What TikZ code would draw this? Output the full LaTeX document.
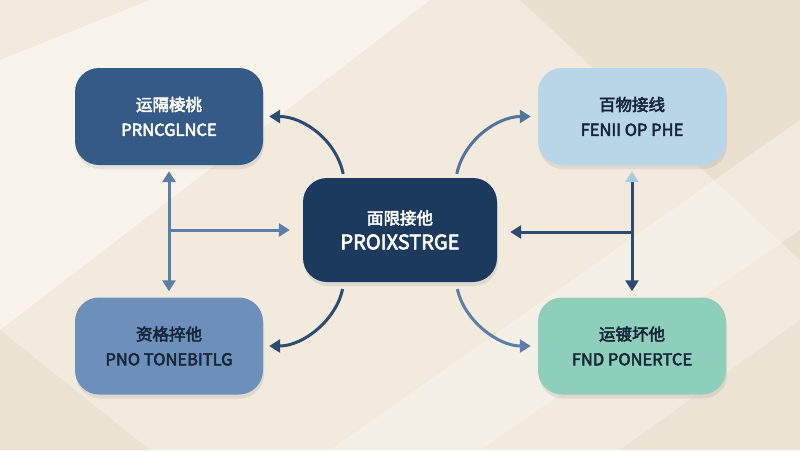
\documentclass[tikz,border=0pt]{standalone}
\usepackage{fontspec}
\newfontfamily\lblfont{Noto Sans CJK SC}[FakeBold=3]
\usetikzlibrary{arrows.meta,shadows,calc}
\definecolor{bgbase}{HTML}{F1EADD}
\definecolor{bglight}{HTML}{FBF8F0}
\definecolor{bgdark}{HTML}{E6DCCB}
\definecolor{tlfill}{HTML}{335B86}
\definecolor{trfill}{HTML}{B9D6E9}
\definecolor{cfill}{HTML}{1C3A5E}
\definecolor{blfill}{HTML}{6D90BA}
\definecolor{brfill}{HTML}{8DCFBA}
\definecolor{darktext}{HTML}{16253A}
\definecolor{arrdark}{HTML}{2B4B72}
\definecolor{arrmid}{HTML}{5B7FA9}
\definecolor{arrlight}{HTML}{A9CCE4}
\begin{document}
\begin{tikzpicture}[x=1pt,y=-1pt,
  card/.style={rounded corners=24pt, minimum width=188pt, minimum height=97pt,
    inner sep=0pt, align=center, font=\lblfont\fontsize{16.5}{25}\selectfont,
    drop shadow={opacity=0.16, shadow xshift=1pt, shadow yshift=-4pt}},
  conn/.style={line width=3pt, -{Triangle[length=11pt,width=13pt]}},
  bothconn/.style={line width=3pt, {Triangle[length=11pt,width=13pt]}-{Triangle[length=11pt,width=13pt]}}
]
\useasboundingbox (0,0) rectangle (800,450);
% background
\fill[bgbase] (0,0) rectangle (800,450);
\fill[bgdark, opacity=0.7] (520,0) -- (800,0) -- (800,260) -- cycle;
\fill[bglight, opacity=0.75] (0,60) -- (150,0) -- (430,0) -- (0,330) -- cycle;
\fill[bglight, opacity=0.45] (330,450) -- (800,120) -- (800,230) -- (480,450) -- cycle;
\fill[bgdark, opacity=0.5] (0,330) -- (0,450) -- (150,450) -- cycle;
\fill[bgdark, opacity=0.45] (620,450) -- (800,320) -- (800,450) -- cycle;

% nodes
\node[card, fill=tlfill, text=white] (tl) at (169,116.5) {运隔棱桃\\PRNCGLNCE};
\node[card, fill=trfill, text=darktext] (tr) at (632,116.5) {百物接线\\FENII OP PHE};
\node[card, fill=cfill, text=white, minimum width=194pt, minimum height=104pt] (c) at (400,230)
  {面限接他\\{\fontsize{20}{25}\selectfont PROIXSTRGE}};
\node[card, fill=blfill, text=darktext] (bl) at (169,346) {资格捽他\\PNO TONEBITLG};
\node[card, fill=brfill, text=darktext] (br) at (632,346) {运镀坏他\\FND PONERTCE};

% left T connector
\coordinate (lj) at (tl.south |- c.west);
\draw[bothconn, arrmid, shorten <=6pt, shorten >=6pt] (tl.south) -- (bl.north);
\draw[conn, arrmid, shorten >=13pt] (lj) -- (c.west);

% right T connector
\coordinate (rj) at ($(tr.south |- c.east)+(0,2)$);
\draw[line width=3pt, arrdark,
  {Triangle[length=11pt,width=13pt,color=arrlight]}-{Triangle[length=11pt,width=13pt]},
  shorten <=6pt, shorten >=6pt] (tr.south) -- (br.north);
\draw[conn, arrdark, shorten >=13pt] (rj) -- ($(c.east)+(0,2)$);

% curved connectors
\draw[conn, arrdark, shorten <=4pt, shorten >=6pt]
  (c.137) .. controls +(-8,-38) and +(40,0) .. (tl.east);
\draw[conn, arrmid!80!arrdark, shorten <=4pt, shorten >=7pt]
  (c.43) .. controls +(8,-38) and +(-40,0) .. (tr.west);
\draw[conn, arrdark, shorten <=7pt, shorten >=6pt]
  (c.223) .. controls +(-8,38) and +(40,0) .. (bl.east);
\draw[conn, arrmid, shorten <=7pt, shorten >=7pt]
  (c.-43) .. controls +(8,38) and +(-40,0) .. (br.west);
\end{tikzpicture}
\end{document}
